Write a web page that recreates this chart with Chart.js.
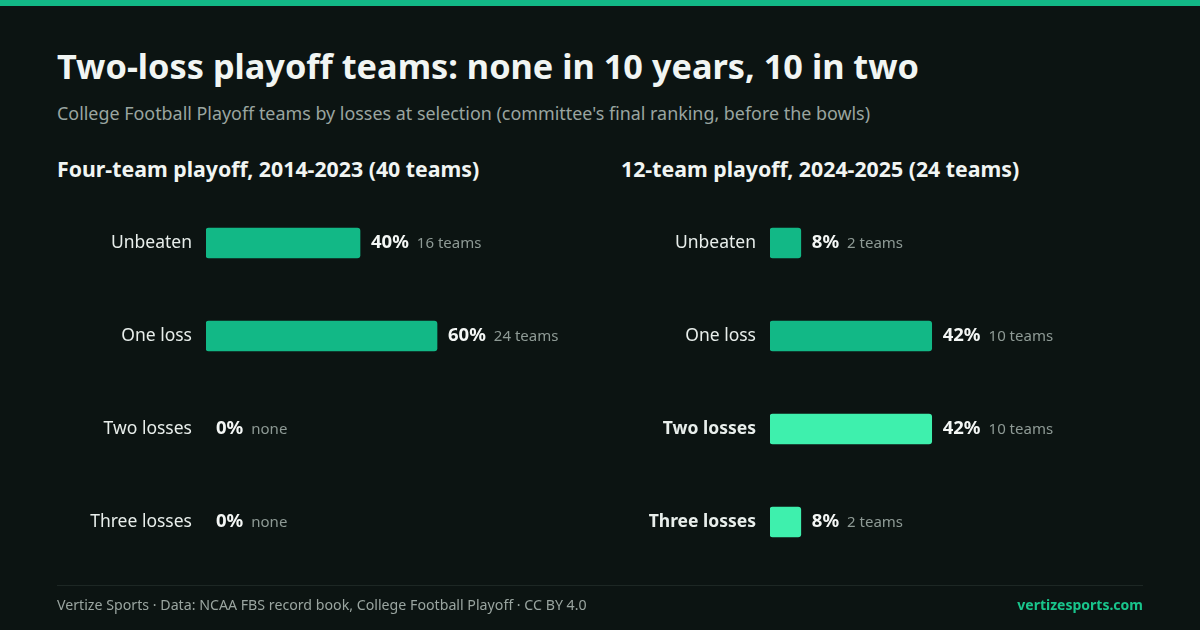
<!DOCTYPE html>
<html>
<head>
<meta charset="utf-8">
<script src="https://cdn.jsdelivr.net/npm/chart.js@4.4.1/dist/chart.umd.min.js"></script>
<style>
  html, body { margin: 0; padding: 0; }
  body { width: 1200px; height: 630px; background: #0c1412; position: relative; overflow: hidden; font-family: "Noto Sans", sans-serif; }
  .topbar { position: absolute; left: 0; top: 0; width: 1200px; height: 6px; background: #12b886; }
  .title { position: absolute; left: 57px; top: 42px; margin: 0; font-size: 34.3px; font-weight: 700; color: #f1f5f3; line-height: 48px; white-space: nowrap; }
  .subtitle { position: absolute; left: 57px; top: 100px; margin: 0; font-size: 17.9px; color: #9aa5a0; line-height: 26px; white-space: nowrap; }
  .panel-title { position: absolute; top: 155px; margin: 0; font-size: 21.3px; font-weight: 700; color: #f1f5f3; line-height: 28px; white-space: nowrap; }
  .chartbox { position: absolute; top: 172px; width: 600px; height: 428px; }
  .divider { position: absolute; left: 57px; top: 585px; width: 1086px; height: 1px; background: #1d2724; }
  .foot { position: absolute; top: 595px; line-height: 20px; white-space: nowrap; }
  .foot.left { left: 57px; color: #9aa5a0; font-size: 14.2px; }
  .foot.right { right: 57px; color: #19c58c; font-weight: 700; font-size: 14px; }
</style>
</head>
<body>
<div class="topbar"></div>
<h1 class="title">Two-loss playoff teams: none in 10 years, 10 in two</h1>
<p class="subtitle">College Football Playoff teams by losses at selection (committee's final ranking, before the bowls)</p>
<h2 class="panel-title" style="left:57px">Four-team playoff, 2014-2023 (40 teams)</h2>
<h2 class="panel-title" style="left:621px">12-team playoff, 2024-2025 (24 teams)</h2>
<div class="chartbox" style="left:0"><canvas id="c1"></canvas></div>
<div class="chartbox" style="left:600px"><canvas id="c2"></canvas></div>
<div class="divider"></div>
<div class="foot left">Vertize Sports · Data: NCAA FBS record book, College Football Playoff · CC BY 4.0</div>
<div class="foot right">vertizesports.com</div>
<script>
const categories = ["Unbeaten", "One loss", "Two losses", "Three losses"];
const fourTeamPct = [40, 60, 0, 0];
const fourTeamCounts = [16, 24, 0, 0];
const twelveTeamPct = [8, 42, 42, 8];
const twelveTeamCounts = [2, 10, 10, 2];
const xTicks = [0, 100];

const DARK = "#12b886";
const BRIGHT = "#3ef0ad";

function countText(n) {
  if (n === 0) return "none";
  return n + " teams";
}

const valueLabels = {
  id: "valueLabels",
  afterDatasetsDraw(chart, args, opts) {
    const ctx = chart.ctx;
    const meta = chart.getDatasetMeta(0);
    const ds = chart.data.datasets[0];
    ctx.save();
    ctx.textBaseline = "middle";
    meta.data.forEach((bar, i) => {
      const v = ds.data[i];
      const x0 = (v === 0 ? chart.scales.x.getPixelForValue(0) + 10 : bar.x + 11);
      const y = bar.y;
      ctx.font = "700 18.5px 'Noto Sans'";
      ctx.fillStyle = "#f4f7f5";
      ctx.textAlign = "left";
      const t1 = v + "%";
      ctx.fillText(t1, x0, y);
      const w = ctx.measureText(t1).width;
      ctx.font = "400 15px 'Noto Sans'";
      ctx.fillStyle = "#8e9a95";
      ctx.fillText(countText(opts.counts[i]), x0 + w + 8, y + 1);
    });
    ctx.restore();
  }
};

function makeChart(id, values, counts, colors, boldFrom, yWidth, padRight) {
  return new Chart(document.getElementById(id), {
    type: "bar",
    data: {
      labels: categories,
      datasets: [{
        data: values,
        backgroundColor: values.map((v, i) => v === 0 ? "rgba(0,0,0,0)" : colors[i]),
        borderRadius: 3,
        borderSkipped: false,
        barThickness: 30
      }]
    },
    options: {
      indexAxis: "y",
      responsive: true,
      maintainAspectRatio: false,
      animation: false,
      layout: { padding: { top: 6.5, bottom: 31.5, left: 0, right: padRight } },
      plugins: {
        legend: { display: false },
        tooltip: { enabled: false },
        valueLabels: { counts: counts }
      },
      scales: {
        x: {
          display: false,
          min: xTicks[0],
          max: xTicks[1]
        },
        y: {
          grid: { display: false, drawTicks: false },
          border: { display: false },
          afterFit(scale) { scale.width = yWidth; },
          ticks: {
            padding: 14,
            color: "#e8eeeb",
            font: (c) => ({
              family: "'Noto Sans'",
              size: 17.5,
              weight: (c.index >= boldFrom) ? "700" : "400"
            })
          }
        }
      }
    },
    plugins: [valueLabels]
  });
}

makeChart("c1", fourTeamPct, fourTeamCounts, [DARK, DARK, DARK, DARK], 99, 206, 9);
makeChart("c2", twelveTeamPct, twelveTeamCounts, [DARK, DARK, BRIGHT, BRIGHT], 2, 170, 45);
</script>
</body>
</html>
